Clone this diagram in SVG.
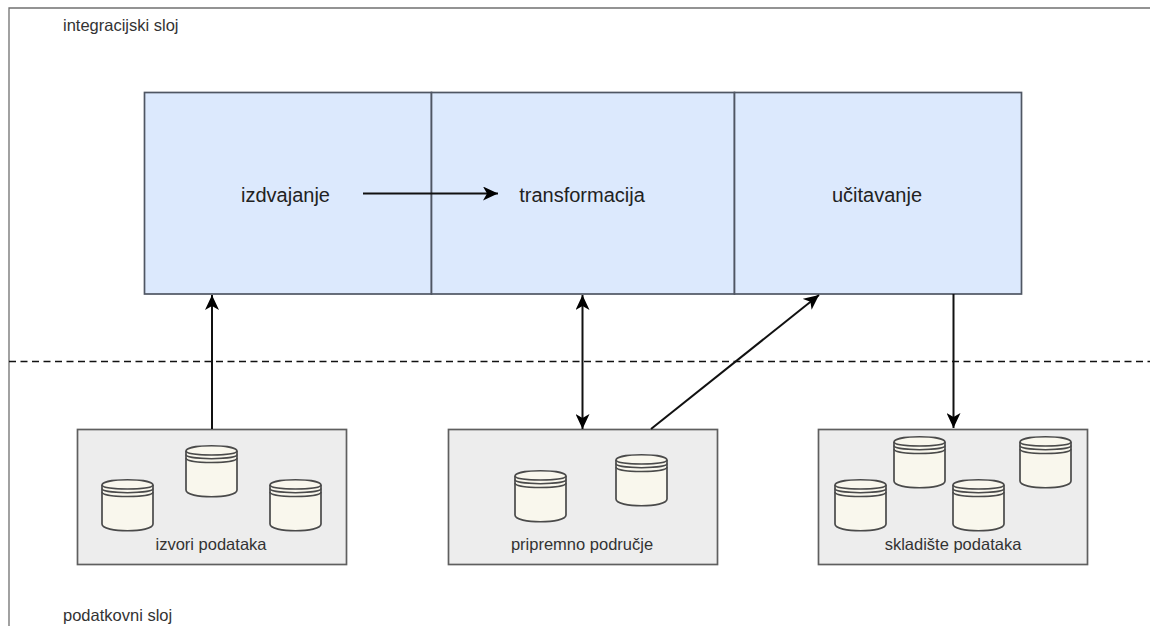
<svg xmlns="http://www.w3.org/2000/svg" width="1150" height="626" viewBox="0 0 1150 626">
<style>
text{font-family:"Liberation Sans",Arial,sans-serif;fill:#333}
.s{font-size:16.500px}
.m{font-size:16.500px;text-anchor:middle}
.b{font-size:20px;text-anchor:middle;fill:#222}
.blue{fill:#dce9fd;stroke:#4f5663;stroke-width:1.7}
.grey{fill:#ededed;stroke:#5f5f5f;stroke-width:1.7}
.cyl{fill:#f9f7ed;stroke:#4a4a4a;stroke-width:1.7}
.cl{fill:none;stroke:#4a4a4a;stroke-width:1.5}
.c{fill:none;stroke:#111;stroke-width:2}
</style>
<defs>
<marker id="a" viewBox="0 0 16 14" refX="15" refY="7" markerWidth="16" markerHeight="14" orient="auto-start-reverse" markerUnits="userSpaceOnUse"><path d="M0 0L15 7L0 14L4 7Z" fill="#000"/></marker>
<g id="db">
<path class="cyl" d="M0 5C0 -2 51 -2 51 5V44C51 53 0 53 0 44Z"/>
<path class="cl" d="M0 5C0 10.300 51 10.300 51 5M0 8.500C0 14 51 14 51 8.500M0 12C0 18 51 18 51 12"/>
</g>
</defs>
<rect width="1150" height="626" fill="#fff"/>
<g id="frame"><path d="M1150 8H9V626" fill="none" stroke="#707070" stroke-width="1.3"/></g>
<text class="s" x="63" y="31">integracijski sloj</text>
<text class="s" x="63" y="621">podatkovni sloj</text>
<g id="izdvajanje"><rect class="blue" x="144.500" y="92.500" width="287" height="201.500"/><text class="b" x="285.500" y="202">izdvajanje</text></g>
<g id="transformacija"><rect class="blue" x="431.500" y="92.500" width="303" height="201.500"/><text class="b" x="582" y="202">transformacija</text></g>
<g id="ucitavanje"><rect class="blue" x="734.500" y="92.500" width="287" height="201.500"/><text class="b" x="877" y="202">učitavanje</text></g>
<g id="izvori">
<rect class="grey" x="77.500" y="429.500" width="269" height="135"/>
<use href="#db" x="102" y="480"/><use href="#db" x="186" y="446"/><use href="#db" x="270" y="480"/>
<text class="m" x="211" y="550">izvori podataka</text>
</g>
<g id="pripremno">
<rect class="grey" x="448.500" y="429.500" width="269" height="135"/>
<use href="#db" x="515" y="471"/><use href="#db" x="616" y="455"/>
<text class="m" x="582" y="550">pripremno područje</text>
</g>
<g id="skladiste">
<rect class="grey" x="818.500" y="429.500" width="269" height="135"/>
<use href="#db" x="835" y="480"/><use href="#db" x="894" y="437"/><use href="#db" x="953" y="480"/><use href="#db" x="1020" y="437"/>
<text class="m" x="953" y="550">skladište podataka</text>
</g>
<g id="connectors">
<path d="M9 361.500H1150" fill="none" stroke="#111" stroke-width="1.500" stroke-dasharray="7 4.500"/>
<path class="c" d="M363 193.500H498" marker-end="url(#a)"/>
<path class="c" d="M212 429V295" marker-end="url(#a)"/>
<path class="c" d="M582.500 429V295" marker-start="url(#a)" marker-end="url(#a)"/>
<path class="c" d="M651 429L819 295" marker-end="url(#a)"/>
<path class="c" d="M953.500 294V428" marker-end="url(#a)"/>
</g>
</svg>
